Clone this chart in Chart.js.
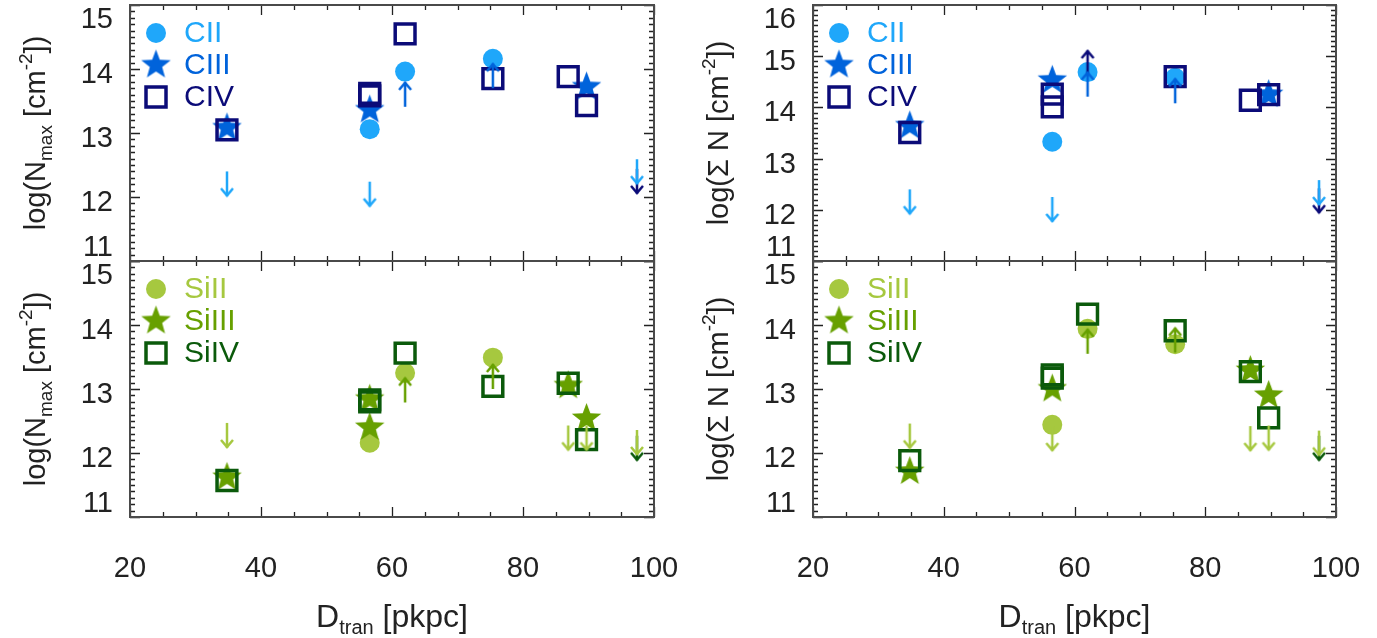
<!DOCTYPE html>
<html>
<head>
<meta charset="utf-8">
<script src="https://cdn.jsdelivr.net/npm/chart.js@4.4.1/dist/chart.umd.min.js"></script>
<style>
  html, body { margin: 0; padding: 0; background: #fff; }
  #wrap { position: relative; width: 1377px; height: 638px; background: #fff; }
  #wrap canvas { position: absolute; left: 0; top: 0; }
</style>
</head>
<body>
<div id="wrap">
  <canvas id="pTL" width="1377" height="638"></canvas>
  <canvas id="pTR" width="1377" height="638"></canvas>
  <canvas id="pBL" width="1377" height="638"></canvas>
  <canvas id="pBR" width="1377" height="638"></canvas>
</div>
<script>
// ---- data: [D_tran (pkpc), log column density] ----
// top left: log N_max, carbon
const nmaxCII      = [[56.6, 13.06], [62.0, 13.96], [75.4, 14.16]];
const nmaxCIIup    = [[34.8, 12.40], [56.6, 12.24], [97.4, 12.59]];
const nmaxCIII     = [[34.8, 13.08], [56.6, 13.36], [89.7, 13.72]];
const nmaxCIIIlow  = [[62.0, 13.41], [75.4, 13.70]];
const nmaxCIV      = [[34.8, 13.05], [56.6, 13.58], [56.6, 13.62], [62.0, 14.55], [75.4, 13.85], [86.9, 13.88], [89.7, 13.43]];
const nmaxCIVup    = [[97.4, 12.44]];

// top right: log sum N, carbon
const sumCII       = [[56.6, 13.33], [62.0, 14.69], [75.4, 14.58]];
const sumCIIup     = [[34.8, 12.40], [56.6, 12.25], [97.4, 12.58]];
const sumCIII      = [[34.8, 13.64], [56.6, 14.53], [89.7, 14.25]];
const sumCIIIlow   = [[62.0, 14.21], [75.4, 14.08]];
const sumCIV       = [[34.8, 13.51], [56.6, 14.26], [56.6, 14.01], [75.4, 14.60], [86.9, 14.14], [89.7, 14.25]];
const sumCIVlow    = [[62.0, 14.63]];
const sumCIVup     = [[97.4, 12.42]];

// bottom left: log N_max, silicon
const nmaxSiII     = [[56.6, 12.16], [62.0, 13.25], [75.4, 13.49]];
const nmaxSiIIup   = [[34.8, 12.47], [86.9, 12.43], [89.7, 12.43], [97.4, 12.36]];
const nmaxSiIII    = [[34.8, 11.62], [56.6, 12.84], [56.6, 12.40], [86.9, 13.05], [89.7, 12.54]];
const nmaxSiIIIlow = [[62.0, 12.79], [75.4, 13.00]];
const nmaxSiIV     = [[34.8, 11.57], [56.6, 12.80], [56.6, 12.83], [62.0, 13.56], [75.4, 13.04], [86.9, 13.09], [89.7, 12.21]];
const nmaxSiIVup   = [[97.4, 12.27]];

// bottom right: log sum N, silicon
const sumSiII      = [[56.6, 12.44], [62.0, 13.94], [75.4, 13.70]];
const sumSiIIup    = [[34.8, 12.46], [56.6, 12.42], [86.9, 12.42], [89.7, 12.43], [97.4, 12.35]];
const sumSiIII     = [[34.8, 11.71], [56.6, 13.00], [86.9, 13.29], [89.7, 12.90]];
const sumSiIIIlow  = [[62.0, 13.55], [75.4, 13.57]];
const sumSiIV      = [[34.8, 11.88], [56.6, 13.17], [56.6, 13.22], [62.0, 14.17], [75.4, 13.91], [86.9, 13.27], [89.7, 12.55]];
const sumSiIVup    = [[97.4, 12.27]];

const xTicks = [20, 40, 60, 80, 100];
const yTicksN = [11, 12, 13, 14, 15];
const yTicksSum = [11, 12, 13, 14, 15, 16];
const carbonNames = ['CII', 'CIII', 'CIV'];
const siliconNames = ['SiII', 'SiIII', 'SiIV'];

const carbonColors = ['#1fa7fa', '#0063db', '#0b0b78'];
const siliconColors = ['#a6c83f', '#67a000', '#0b5a0b'];

const FONT = '"Liberation Sans", Arial, Helvetica, sans-serif';
const TXT = '#222';

// ---- marker images ----
function starImage(color, R) {
    const c = document.createElement('canvas');
    const s = Math.ceil(2 * R + 4);
    c.width = s; c.height = s;
    const g = c.getContext('2d');
    g.translate(s / 2, s / 2);
    g.beginPath();
    for (let i = 0; i < 10; i++) {
        const r = i % 2 ? R * 0.42 : R;
        const a = -Math.PI / 2 + i * Math.PI / 5;
        g.lineTo(r * Math.cos(a), r * Math.sin(a));
    }
    g.closePath();
    g.fillStyle = color;
    g.fill();
    return c;
}

// dir = 1 points down (upper limit), dir = -1 points up (lower limit)
function arrowImage(color, dir) {
    const L = 25, w = 16, h = 2 * L + 6;
    const c = document.createElement('canvas');
    c.width = w; c.height = h;
    const g = c.getContext('2d');
    const cx = w / 2, cy = h / 2;
    g.strokeStyle = color;
    g.lineWidth = 2.5;
    g.beginPath();
    g.moveTo(cx, cy);
    g.lineTo(cx, cy + dir * L);
    g.stroke();
    g.beginPath();
    g.moveTo(cx - 6, cy + dir * (L - 8));
    g.lineTo(cx, cy + dir * (L - 1));
    g.lineTo(cx + 6, cy + dir * (L - 8));
    g.stroke();
    return c;
}

function pts(arr) {
    return arr.map(p => ({ x: p[0], y: p[1] }));
}

function detSet(arr, kind, color) {
    if (kind === 0) {
        return { data: pts(arr), pointStyle: 'circle', pointRadius: 10, pointBackgroundColor: color,
                 pointBorderWidth: 0, order: 3 };
    }
    if (kind === 1) {
        return { data: pts(arr), pointStyle: starImage(color, 15.5), pointRadius: 10, order: 2 };
    }
    return { data: pts(arr), pointStyle: 'rect', pointRadius: 14, pointBackgroundColor: 'rgba(0,0,0,0)',
             pointBorderColor: color, pointBorderWidth: 3.5, order: 1 };
}

function limSet(arr, color, dir) {
    return { data: pts(arr), pointStyle: arrowImage(color, dir), pointRadius: 10, order: 0 };
}

// ---- text helpers ----
function richWidth(ctx, parts, big, small) {
    let w = 0;
    parts.forEach(p => {
        ctx.font = (p.s ? small : big) + 'px ' + FONT;
        w += ctx.measureText(p.t).width;
    });
    return w;
}

function drawRich(ctx, parts, x, y, rotate, big, small) {
    ctx.save();
    ctx.translate(x, y);
    if (rotate) ctx.rotate(-Math.PI / 2);
    const w = richWidth(ctx, parts, big, small);
    let cx = -w / 2;
    ctx.textAlign = 'left';
    ctx.textBaseline = 'alphabetic';
    parts.forEach(p => {
        ctx.font = (p.s ? small : big) + 'px ' + FONT;
        const dy = p.s === 'sub' ? 7 : (p.s === 'sup' ? -13 : 0);
        ctx.fillText(p.t, cx, dy);
        cx += ctx.measureText(p.t).width;
    });
    ctx.restore();
}

const titleNmax = [{ t: 'log(N' }, { t: 'max', s: 'sub' }, { t: ' [cm' }, { t: '-2', s: 'sup' }, { t: '])' }];
const titleSum = [{ t: 'log(\u03A3 N [cm' }, { t: '-2', s: 'sup' }, { t: '])' }];
const titleX = [{ t: 'D' }, { t: 'tran', s: 'sub' }, { t: ' [pkpc]' }];

// ---- axes / frame / legend plugin ----
const framePlugin = {
    id: 'idlFrame',
    afterDraw(chart) {
        const o = chart.options.plugins.idlFrame;
        const ctx = chart.ctx;
        const a = chart.chartArea;
        const xs = chart.scales.x, ys = chart.scales.y;
        ctx.save();

        // minor + major ticks, inward on all sides
        ctx.strokeStyle = '#222';
        ctx.lineWidth = 1.3;
        ctx.beginPath();
        for (let v = 20; v <= 100; v += 5) {
            const px = Math.round(xs.getPixelForValue(v)) + 0.5;
            const len = v % 20 === 0 ? 10 : 5;
            ctx.moveTo(px, a.bottom); ctx.lineTo(px, a.bottom - len);
            ctx.moveTo(px, a.top); ctx.lineTo(px, a.top + len);
        }
        for (let k = Math.round(o.yMin * 10); k <= Math.round(o.yMax * 10); k++) {
            const py = Math.round(ys.getPixelForValue(k / 10)) + 0.5;
            const len = k % 10 === 0 ? 10 : 5;
            ctx.moveTo(a.left, py); ctx.lineTo(a.left + len, py);
            ctx.moveTo(a.right, py); ctx.lineTo(a.right - len, py);
        }
        ctx.stroke();

        // frame
        ctx.strokeStyle = '#4a4a4a';
        ctx.lineWidth = 2;
        ctx.strokeRect(a.left, a.top, a.right - a.left, a.bottom - a.top);

        // y tick labels
        ctx.fillStyle = TXT;
        ctx.font = '29px ' + FONT;
        ctx.textAlign = 'right';
        ctx.textBaseline = 'middle';
        o.yTicks.forEach(v => {
            let py = ys.getPixelForValue(v);
            if (v === o.yMax) py += 15;
            else if (v === o.yMin) py -= 13;
            else py += 6;
            ctx.fillText(String(v), a.left - 17, py);
        });

        // x tick labels + title
        if (o.xLabels) {
            ctx.textAlign = 'center';
            xTicks.forEach(v => {
                ctx.fillText(String(v), xs.getPixelForValue(v), 569);
            });
            drawRich(ctx, titleX, (a.left + a.right) / 2, 627, false, 32, 20);
        }

        // y title
        drawRich(ctx, o.yTitle, a.left - 85, (a.top + a.bottom) / 2, true, 29, 19);

        // legend
        const lx = a.left + 26;
        o.names.forEach((name, i) => {
            const ly = a.top + 28 + i * 32;
            const col = o.colors[i];
            if (i === 0) {
                ctx.fillStyle = col;
                ctx.beginPath();
                ctx.arc(lx, ly, 10, 0, Math.PI * 2);
                ctx.fill();
            } else if (i === 1) {
                const img = starImage(col, 15.5);
                ctx.drawImage(img, lx - img.width / 2, ly - img.height / 2);
            } else {
                ctx.strokeStyle = col;
                ctx.lineWidth = 3.5;
                ctx.strokeRect(lx - 10, ly - 10, 20, 20);
            }
            ctx.fillStyle = col;
            ctx.font = '30px ' + FONT;
            ctx.textAlign = 'left';
            ctx.textBaseline = 'middle';
            ctx.fillText(name, a.left + 54, ly + 1);
        });
        ctx.restore();
    }
};

function makePanel(id, box, yMin, yMax, yTicks, datasets, names, colors, yTitle, xLabels) {
    datasets.forEach(d => { d.showLine = false; d.pointHoverRadius = d.pointRadius; d.clip = false; });
    new Chart(document.getElementById(id), {
        type: 'scatter',
        data: { datasets: datasets },
        options: {
            responsive: false,
            animation: false,
            devicePixelRatio: 1,
            events: [],
            layout: {
                autoPadding: false,
                padding: { left: box[0], top: box[1], right: 1377 - box[2], bottom: 638 - box[3] }
            },
            scales: {
                x: { type: 'linear', min: 20, max: 100, display: false },
                y: { type: 'linear', min: yMin, max: yMax, display: false }
            },
            plugins: {
                legend: { display: false },
                tooltip: { enabled: false },
                idlFrame: { yMin: yMin, yMax: yMax, yTicks: yTicks, names: names, colors: colors,
                            yTitle: yTitle, xLabels: xLabels }
            }
        },
        plugins: [framePlugin]
    });
}

const C = carbonColors, S = siliconColors;

makePanel('pTL', [130, 5, 654, 261], 11, 15, yTicksN, [
    detSet(nmaxCII, 0, C[0]), detSet(nmaxCIII, 1, C[1]), detSet(nmaxCIV, 2, C[2]),
    limSet(nmaxCIIup, C[0], 1), limSet(nmaxCIIIlow, C[1], -1), limSet(nmaxCIVup, C[2], 1)
], carbonNames, C, titleNmax, false);

makePanel('pTR', [813, 5, 1336, 261], 11, 16, yTicksSum, [
    detSet(sumCII, 0, C[0]), detSet(sumCIII, 1, C[1]), detSet(sumCIV, 2, C[2]),
    limSet(sumCIIup, C[0], 1), limSet(sumCIIIlow, C[1], -1), limSet(sumCIVlow, C[2], -1), limSet(sumCIVup, C[2], 1)
], carbonNames, C, titleSum, false);

makePanel('pBL', [130, 261, 654, 517], 11, 15, yTicksN, [
    detSet(nmaxSiII, 0, S[0]), detSet(nmaxSiIII, 1, S[1]), detSet(nmaxSiIV, 2, S[2]),
    limSet(nmaxSiIIup, S[0], 1), limSet(nmaxSiIIIlow, S[1], -1), limSet(nmaxSiIVup, S[2], 1)
], siliconNames, S, titleNmax, true);

makePanel('pBR', [813, 261, 1336, 517], 11, 15, yTicksN, [
    detSet(sumSiII, 0, S[0]), detSet(sumSiIII, 1, S[1]), detSet(sumSiIV, 2, S[2]),
    limSet(sumSiIIup, S[0], 1), limSet(sumSiIIIlow, S[1], -1), limSet(sumSiIVup, S[2], 1)
], siliconNames, S, titleSum, true);
</script>
</body>
</html>
